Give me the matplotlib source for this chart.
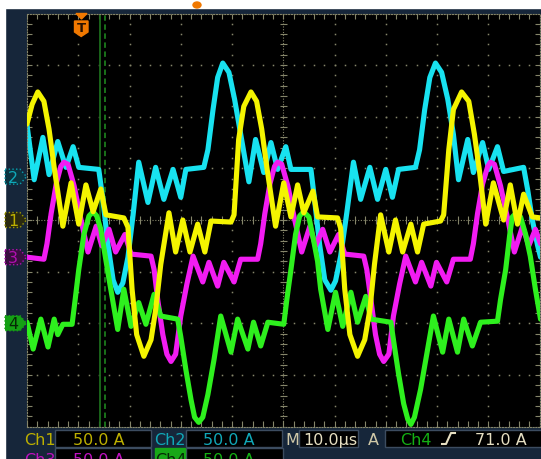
import numpy as np
import matplotlib.pyplot as plt
from matplotlib.patches import Rectangle, Polygon, Ellipse

# scope settings: 10 us/div, 50 A/div on every channel
t_div = 10.0
amps_div = 50.0

# Ch1 (yellow) - time in us, current in A
ch1_t = [0.0, 1.0, 2.1, 3.3, 4.3, 5.3, 7.0, 8.6, 10.1, 11.5, 12.9, 14.4, 15.4, 18.9, 19.7,
         20.5, 21.4, 22.8, 24.2, 25.1, 26.1, 27.7, 29.0, 30.4, 31.8, 33.3, 34.7, 35.9, 39.8,
         40.4, 41.3, 42.3, 43.7, 44.8, 45.8, 46.8, 48.5, 50.1, 51.5, 52.8, 54.0, 55.8, 56.7,
         60.6, 61.2, 62.0, 63.0, 64.5, 65.9, 66.9, 67.8, 69.0, 70.6, 71.9, 73.3, 74.9, 76.2,
         77.4, 80.7, 81.3, 82.3, 83.2, 84.8, 86.2, 87.3, 88.3, 89.5, 91.0, 93.0, 94.3, 95.7,
         96.9, 98.6, 100.2]
ch1_a = [93, 112, 124, 115, 88, 51, -6, 36, -4, 34, 8, 30, 5, 2, -7,
         -67, -111, -132, -116, -87, -43, 7, -31, 0, -31, -4, -31, -1, -2,
         5, 78, 110, 124, 115, 88, 51, -6, 36, 3, 34, 7, 28, 3,
         2, -8, -67, -111, -132, -116, -87, -43, 5, -31, 0, -31, -4, -31,
         -4, -1, 5, 68, 107, 124, 115, 83, 47, -4, 36, 0, 34, -4,
         25, 3, 2]

# Ch2 (cyan)
ch2_t = [0.0, 1.4, 3.1, 4.3, 6.0, 7.6, 9.0, 10.1, 14.0, 14.8, 15.8, 16.8, 17.7, 18.7, 19.7,
         20.7, 21.8, 23.6, 25.1, 26.7, 28.5, 30.0, 31.0, 34.5, 35.3, 36.3, 37.2, 38.2, 39.4,
         40.5, 41.7, 43.3, 44.6, 46.2, 47.6, 48.9, 50.5, 51.5, 55.4, 56.1, 57.1, 58.1, 59.3,
         60.2, 61.2, 62.4, 63.7, 65.1, 66.9, 68.4, 70.0, 71.3, 72.5, 75.8, 76.6, 77.6, 78.6,
         79.7, 80.9, 82.1, 83.2, 84.2, 86.0, 87.1, 88.9, 90.1, 91.8, 93.0, 96.9, 97.7, 98.6,
         99.6, 100.2]
ch2_a = [50, -3, 38, 2, 34, 9, 29, 9, 7, -22, -66, -100, -112, -103, -78,
         -37, 14, -25, 9, -22, 7, -20, 7, 9, 26, 65, 96, 110, 101,
         75, 41, -5, 36, 4, 33, 7, 29, 7, 7, -22, -66, -100, -110,
         -101, -77, -35, 14, -22, 9, -22, 7, -20, 7, 9, 26, 65, 96,
         110, 101, 75, 41, -3, 36, 4, 33, 7, 29, 5, 9, -13, -42,
         -66, -78]

# Ch3 (magenta)
ch3_t = [0.0, 3.3, 3.9, 4.7, 5.7, 6.6, 7.2, 8.0, 9.2, 10.5, 11.9, 13.5, 14.6, 16.0, 17.3,
         19.1, 20.3, 24.2, 24.8, 25.5, 26.5, 27.3, 28.1, 29.0, 30.0, 31.2, 32.4, 34.3, 35.5,
         37.2, 38.4, 40.4, 41.7, 45.0, 45.6, 46.4, 47.4, 48.3, 48.9, 49.7, 50.9, 52.2, 53.6,
         55.2, 56.3, 57.7, 59.1, 60.8, 62.0, 65.7, 66.3, 67.1, 68.0, 68.8, 69.6, 70.6, 71.5,
         72.7, 73.9, 75.8, 77.0, 78.8, 79.9, 81.9, 83.2, 86.5, 87.1, 87.9, 88.9, 89.9, 90.4,
         91.2, 92.4, 93.8, 95.1, 96.7, 97.9, 99.2, 100.2]
ch3_a = [0, -2, 13, 42, 71, 88, 92, 90, 69, 37, 5, 30, 11, 27, 5,
         22, 3, 1, -12, -41, -75, -94, -101, -94, -57, -26, 1, -24, -5,
         -28, -5, -24, -2, -2, 13, 42, 71, 88, 92, 90, 69, 37, 5,
         30, 11, 27, 5, 22, 3, 1, -12, -41, -75, -94, -101, -94, -57,
         -26, 1, -24, -5, -28, -5, -24, -2, -2, 13, 42, 71, 88, 92,
         90, 69, 37, 5, 30, 11, 27, 13]

# Ch4 (green)
ch4_t = [0.0, 1.2, 2.7, 4.1, 5.3, 6.0, 7.0, 8.8, 9.4, 10.1, 11.1, 12.1, 12.9, 13.6, 14.4,
         15.2, 16.0, 17.7, 18.9, 20.3, 21.8, 23.2, 24.8, 26.1, 29.4, 30.0, 31.0, 32.0, 32.7,
         33.5, 34.3, 35.3, 36.5, 37.8, 39.8, 41.1, 43.1, 44.2, 45.6, 47.0, 50.1, 50.7, 51.5,
         52.4, 53.2, 54.0, 55.0, 55.9, 56.7, 57.3, 58.7, 60.2, 61.6, 63.2, 64.5, 66.1, 67.1,
         71.0, 71.5, 72.5, 73.5, 74.3, 74.9, 75.6, 76.8, 78.0, 79.3, 81.1, 82.3, 84.0, 85.2,
         86.9, 88.5, 91.8, 92.4, 93.4, 94.2, 94.7, 95.5, 96.3, 97.3, 98.2, 99.2, 100.2]
ch4_a = [1, -25, 4, -23, 4, -11, -1, -1, 23, 52, 86, 104, 108, 104, 91,
         67, 43, -6, 33, -3, 20, -1, 28, 7, 4, -13, -45, -74, -91,
         -96, -91, -69, -35, 7, -28, 4, -25, 1, -22, 1, -1, 23, 52,
         86, 104, 108, 103, 81, 60, 33, -6, 30, -3, 30, 1, 26, 4,
         1, -16, -49, -78, -93, -98, -91, -64, -30, 7, -28, 4, -28, 4,
         -22, 1, 2, 23, 52, 86, 103, 107, 103, 86, 65, 33, 4]

# ground marker positions (divisions from centre)
pos = {1: 0.0, 2: 0.84, 3: -0.72, 4: -2.0}
colors = {1: '#f4f400', 2: '#18e2f0', 3: '#f21cf2', 4: '#2ef01e'}
order = {1: 5, 2: 2, 3: 3, 4: 4}
traces = {1: (ch1_t, ch1_a), 2: (ch2_t, ch2_a), 3: (ch3_t, ch3_a), 4: (ch4_t, ch4_a)}

navy = '#16263a'
gc = '#85856a'

fig = plt.figure(figsize=(5.41, 4.60), dpi=100, facecolor=navy)

ax = fig.add_axes([27 / 541, 32.5 / 460, 512.5 / 541, 413 / 460], zorder=2)
ax.set_facecolor('black')
ax.set_xlim(0, 10 * t_div)
ax.set_ylim(-4, 4)
ax.set_xticks([])
ax.set_yticks([])
for s in ax.spines.values():
    s.set_color(gc)
    s.set_linestyle((0, (1, 1.5)))
    s.set_linewidth(0.8)

# graticule
minor_x = np.arange(0, 100.01, 2)
minor_y = np.arange(-4, 4.01, 0.2)
for gx in [10, 20, 30, 40, 60, 70, 80, 90]:
    ax.plot(np.full_like(minor_y, gx), minor_y, ls='none', marker='s', ms=1.1, mew=0, color=gc, zorder=1)
for gy in [-3, -2, -1, 1, 2, 3]:
    ax.plot(minor_x, np.full_like(minor_x, gy), ls='none', marker='s', ms=1.1, mew=0, color=gc, zorder=1)
ax.axvline(50, color=gc, lw=0.8, ls=(0, (1, 1.5)), zorder=1)
ax.axhline(0, color=gc, lw=0.8, ls=(0, (1, 1.5)), zorder=1)
ax.hlines(minor_y, 49.3, 50.7, color=gc, lw=0.8, zorder=1)
ax.vlines(minor_x, -0.07, 0.07, color=gc, lw=0.8, zorder=1)
ax.vlines(minor_x, -4, -3.9, color=gc, lw=0.8, zorder=1)
ax.vlines(minor_x, 3.9, 4, color=gc, lw=0.8, zorder=1)
ax.hlines(minor_y, 0, 0.9, color=gc, lw=0.8, zorder=1)
ax.hlines(minor_y, 99.1, 100, color=gc, lw=0.8, zorder=1)

# cursors
ax.axvline(14.2, color='#1c6c1c', lw=1.3, zorder=1.5)
ax.axvline(15.2, color='#1c7a1c', lw=1.3, ls=(0, (3, 2)), zorder=1.5)

for ch in [1, 2, 3, 4]:
    t, a = traces[ch]
    ax.plot(t, pos[ch] + np.array(a) / amps_div, color=colors[ch], lw=3.7,
            solid_joinstyle='round', solid_capstyle='round', zorder=order[ch])

# overlay in pixel units for the scope furniture
ov = fig.add_axes([0, 0, 1, 1], zorder=5)
ov.set_xlim(0, 541)
ov.set_ylim(460, 0)
ov.axis('off')
ov.patch.set_alpha(0)

ov.add_patch(Rectangle((0, 0), 541, 9, color='white'))
ov.add_patch(Rectangle((0, 0), 5, 460, color='white'))
ov.add_patch(Ellipse((197, 6), 8, 6, color='#f07800'))

# channel ground markers
markers = [('2', pos[2], '#0c3340', '#0aa0b0', '#10a8b8'),
           ('1', pos[1], '#2a2a10', '#a09a00', '#bdb000'),
           ('3', pos[3], '#3a0e40', '#b010b0', '#b010b0'),
           ('4', pos[4], '#14a014', '#14a014', '#062806')]
for lab, p, fc, ec, tc in markers:
    yc = 221 - p * 51.6
    ov.add_patch(Polygon([(5, yc - 7.5), (20, yc - 7.5), (26.5, yc), (20, yc + 7.5), (5, yc + 7.5)],
                         closed=True, facecolor=fc, edgecolor=ec, lw=1, ls=':'))
    ov.text(13, yc + 0.5, lab, color=tc, fontsize=11.5, ha='center', va='center')

# trigger position marker
ov.add_patch(Polygon([(76, 14.5), (87, 14.5), (81.5, 20)], closed=True, color='#f07800'))
ov.add_patch(Polygon([(74.5, 22), (88, 22), (88, 33), (81.2, 37.5), (74.5, 33)], closed=True, color='#f07800'))
ov.text(81.2, 29, 'T', color='#2a1200', fontsize=9.5, fontweight='bold', ha='center', va='center')

# status bar
box_ec = '#3c4c60'
for x0, x1, y0, y1 in [(55, 151, 431, 448), (186, 282, 431, 448), (299, 358, 431, 448),
                       (385, 545, 431, 448), (55, 151, 449, 462), (186, 283, 449, 462)]:
    ov.add_patch(Rectangle((x0, y0), x1 - x0, y1 - y0, facecolor='black', edgecolor=box_ec, lw=1))
ov.add_patch(Rectangle((155, 449), 30, 13, facecolor='#18a818', edgecolor='#18a818'))

fs = 11.5
row1 = 445
row2 = 465
ov.text(24, row1, 'Ch1', color='#bdb000', fontsize=fs)
ov.text(73, row1, '50.0 A', color='#bdb000', fontsize=fs)
ov.text(154, row1, 'Ch2', color='#10a8b8', fontsize=fs)
ov.text(203, row1, '50.0 A', color='#10a8b8', fontsize=fs)
ov.text(285, row1, 'M', color='#cfc8a8', fontsize=fs)
ov.text(303, row1, '10.0µs', color='#e6dfc2', fontsize=fs)
ov.text(368, row1, 'A', color='#cfc8a8', fontsize=fs)
ov.text(400, row1, 'Ch4', color='#14b014', fontsize=fs)
ov.plot([442, 446, 451, 455], [445, 445, 434, 434], color='#e6dfc2', lw=1.5)
ov.text(475, row1, '71.0 A', color='#e6dfc2', fontsize=fs)
ov.text(24, row2, 'Ch3', color='#c010c0', fontsize=fs)
ov.text(73, row2, '50.0 A', color='#c010c0', fontsize=fs)
ov.text(155, row2, 'Ch4', color='#062806', fontsize=fs)
ov.text(203, row2, '50.0 A', color='#14b014', fontsize=fs)

fig.savefig('out.png', dpi=100, facecolor=navy)
